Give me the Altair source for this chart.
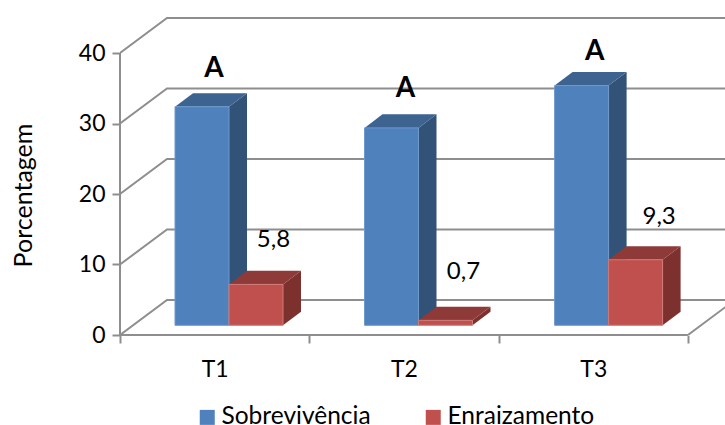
import altair as alt
import pandas as pd

# Chart values
categories = ["T1", "T2", "T3"]
sobrevivencia = [31, 28, 34]
enraizamento = [5.8, 0.7, 9.3]
grid_levels = [0, 10, 20, 30, 40]
series_names = ["Sobrevivência", "Enraizamento"]
significance = ["A", "A", "A"]

# Oblique projection, in axis units (one x unit = one category)
PX_X = 189.3
PX_Y = 7.05
X_MAX = 605 / PX_X
Y_MAX = 325 / PX_Y
WALL_DX, WALL_DY = 47 / PX_X, 35 / PX_Y
BAR_DX, BAR_DY = 18 / PX_X, 13.6 / PX_Y
BAR_W = 54 / PX_X
BAR_START = [55 / PX_X, 55.2 / PX_X, 56 / PX_X]
BASE = 9.7 / PX_Y

A_LIFT = [38 / PX_Y, 39 / PX_Y, 34 / PX_Y]
A_SHIFT = [-24 / PX_X, -22 / PX_X, -23 / PX_X]
VAL_LIFT = [44 / PX_Y, 48 / PX_Y, 42.5 / PX_Y]
VAL_SHIFT = [17.5 / PX_X, 18 / PX_X, 23.5 / PX_X]

FONT = "Lato"
GREY = "#8e8e8e"
xs = alt.Scale(domain=[0, X_MAX], nice=False, zero=False)
ys = alt.Scale(domain=[0, Y_MAX], nice=False, zero=False)

# Back wall and side wall lines
wall = []
for lv in grid_levels:
    pts = [(0, lv), (WALL_DX, lv + WALL_DY), (3 + WALL_DX, lv + WALL_DY)]
    wall += [{"id": f"w{lv}", "x": px, "y": py} for px, py in pts]
wall += [{"id": "floor", "x": 3, "y": 0}, {"id": "floor", "x": 3 + WALL_DX, "y": WALL_DY}]
wall_df = pd.DataFrame(wall)

front, sides, tops = [], [], []
for i, cat in enumerate(categories):
    for j, (name, vals) in enumerate(zip(series_names, [sobrevivencia, enraizamento])):
        v = vals[i]
        x0 = i + BAR_START[i] + j * BAR_W
        x1 = x0 + BAR_W
        b = BASE
        t = BASE + v
        key = f"{i}-{j}"
        front.append({"serie": name, "x": x0, "x2": x1, "y": b, "y2": t, "j": j})
        sides += [
            {"id": key, "j": j, "x": x1, "y": b, "y2": t},
            {"id": key, "j": j, "x": x1 + BAR_DX, "y": b + BAR_DY, "y2": t + BAR_DY},
        ]
        tops += [
            {"id": key, "j": j, "x": x0, "y": t, "y2": t},
            {"id": key, "j": j, "x": x0 + BAR_DX, "y": t, "y2": t + BAR_DY},
            {"id": key, "j": j, "x": x1, "y": t, "y2": t + BAR_DY},
            {"id": key, "j": j, "x": x1 + BAR_DX, "y": t + BAR_DY, "y2": t + BAR_DY},
        ]
front_df = pd.DataFrame(front)
side_df = pd.DataFrame(sides)
top_df = pd.DataFrame(tops)

a_df = pd.DataFrame({
    "x": [i + BAR_START[i] + BAR_W + BAR_DX / 2 + s for i, s in enumerate(A_SHIFT)],
    "y": [BASE + v + l for v, l in zip(sobrevivencia, A_LIFT)],
    "t": significance,
})
val_df = pd.DataFrame({
    "x": [i + BAR_START[i] + 1.5 * BAR_W + s for i, s in enumerate(VAL_SHIFT)],
    "y": [BASE + v + l for v, l in zip(enraizamento, VAL_LIFT)],
    "t": [f"{v}".replace(".", ",") for v in enraizamento],
})

no_x = alt.X("x:Q", scale=xs, axis=None)
no_y = alt.Y("y:Q", scale=ys, axis=None)

wall_layer = alt.Chart(wall_df).mark_line(color=GREY, strokeWidth=2, clip=True).encode(
    x=no_x, y=no_y, detail="id:N"
)

# Vertical axis with its ticks and labels
y_axis_layer = alt.Chart(pd.DataFrame({"x": [0], "y": [0], "y2": [40]})).mark_rule(
    color=GREY, strokeWidth=2
).encode(
    x=no_x,
    y=alt.Y(
        "y:Q", scale=ys,
        axis=alt.Axis(
            orient="left", values=grid_levels, title="Porcentagem", domain=False, grid=False,
            tickColor=GREY, tickWidth=2, tickSize=8, labelFont=FONT, labelFontSize=23,
            labelColor="#000000", labelPadding=7, titleFont=FONT, titleFontSize=25,
            titleFontWeight="normal", titleColor="#000000", titlePadding=42, titleY=185,
            labelOverlap=False,
        ),
    ),
    y2="y2:Q",
)

# Horizontal axis: boundary ticks on one axis, category names on another
x_tick_layer = alt.Chart(pd.DataFrame({"x": [0], "x2": [3], "y": [0]})).mark_rule(
    color=GREY, strokeWidth=2
).encode(
    x=alt.X("x:Q", scale=xs, axis=alt.Axis(
        orient="bottom", values=[0, 1, 2, 3], labels=False, title=None, domain=False, grid=False,
        tickColor=GREY, tickWidth=2, tickSize=8,
    )),
    x2="x2:Q",
    y=no_y,
)
name_expr = "[" + ",".join(f"'{c}'" for c in categories) + "][floor(datum.value)]"
x_name_layer = alt.Chart(pd.DataFrame({"x": [0.5], "y": [0]})).mark_point(opacity=0).encode(
    x=alt.X("x:Q", scale=xs, axis=alt.Axis(
        orient="bottom", values=[0.5, 1.5, 2.5], labelExpr=name_expr, title=None, domain=False,
        grid=False, ticks=False, labelFont=FONT, labelFontSize=23, labelColor="#000000",
        labelPadding=23, labelOverlap=False,
    )),
    y=no_y,
)


def faces(j, side_col, top_col, edge):
    sel_side = side_df[side_df.j == j]
    sel_top = top_df[top_df.j == j]
    side = alt.Chart(sel_side).mark_area(color=side_col, clip=False).encode(
        x=no_x, y=no_y, y2="y2:Q", detail="id:N"
    )
    top = alt.Chart(sel_top).mark_area(color=top_col, clip=False).encode(
        x=no_x, y=no_y, y2="y2:Q", detail="id:N"
    )
    fr = alt.Chart(front_df[front_df.j == j]).mark_rect(stroke=edge, strokeWidth=1).encode(
        x=no_x, x2="x2:Q", y=no_y, y2="y2:Q",
        color=alt.Color(
            "serie:N",
            scale=alt.Scale(domain=series_names, range=["#4f81bd", "#c0504d"]),
            legend=alt.Legend(
                title=None, orient="none", legendX=75, legendY=395, direction="horizontal",
                columns=2, columnPadding=50, symbolType="square", symbolSize=225,
                symbolStrokeWidth=0, labelFont=FONT, labelFontSize=24.5, labelColor="#000000",
                labelOffset=2, labelLimit=300,
            ),
        ),
    )
    return [side, top, fr]


a_layer = alt.Chart(a_df).mark_text(
    font=FONT, fontSize=28, fontWeight="bold", color="#000000", baseline="middle"
).encode(x=no_x, y=no_y, text="t:N")
val_layer = alt.Chart(val_df).mark_text(
    font=FONT, fontSize=24, color="#000000", baseline="middle"
).encode(x=no_x, y=no_y, text="t:N")

chart = alt.layer(
    wall_layer, y_axis_layer, x_tick_layer, x_name_layer,
    *faces(0, "#325277", "#3d6390", "#6f98cb"),
    *faces(1, "#7d312f", "#8e3a38", "#cf7a78"),
    a_layer, val_layer,
).resolve_axis(x="independent", y="independent").properties(
    width=605, height=325,
    autosize=alt.AutoSizeParams(type="none"),
    padding={"left": 120, "top": 10, "right": 0, "bottom": 90},
    background="#ffffff",
).configure_view(stroke=None)

chart.save("out.html", embed_options={"renderer": "svg", "actions": False})
